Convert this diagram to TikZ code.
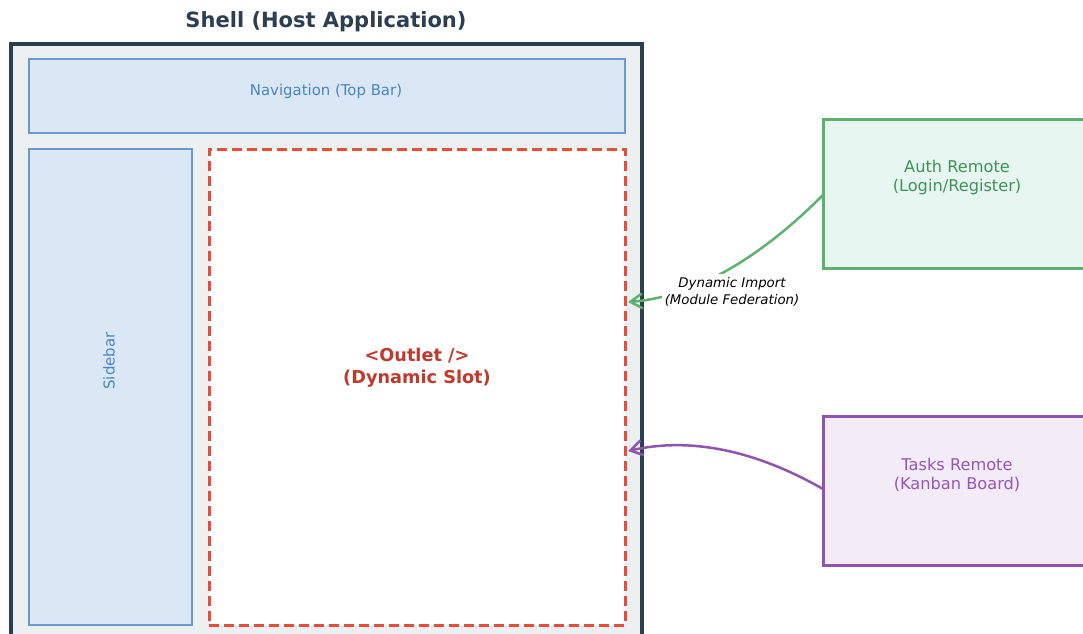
\documentclass[tikz,border=0pt]{standalone}
\usepackage{fontspec}
\setmainfont{DejaVu Sans}
\usetikzlibrary{arrows.meta,calc}
\definecolor{shellline}{HTML}{2C3E50}
\definecolor{shellfill}{HTML}{ECF0F1}
\definecolor{navfill}{HTML}{DAE8F5}
\definecolor{navline}{HTML}{6A9ACB}
\definecolor{navtext}{HTML}{4A86BB}
\definecolor{outletline}{HTML}{E74C3C}
\definecolor{outlettext}{HTML}{C0392B}
\definecolor{authfill}{HTML}{E8F6F1}
\definecolor{authline}{HTML}{5DB26E}
\definecolor{authtext}{HTML}{3F9356}
\definecolor{tasksfill}{HTML}{F3ECF6}
\definecolor{tasksline}{HTML}{8E55B0}
\definecolor{taskstext}{HTML}{9457B5}
\begin{document}
\begin{tikzpicture}[x=1pt,y=-1pt,
  box/.style={draw, rectangle, anchor=north west, inner sep=0pt, outer sep=0pt},
  bluebox/.style={box, fill=navfill, draw=navline, line width=1.3pt},
  remotebox/.style={box, line width=3pt},
  lbl/.style={inner sep=0pt, align=center},
  conn/.style={line width=2.5pt, -{Straight Barb[length=12pt,width=15pt,line width=2.5pt]}}
]
\clip (0,0) rectangle (1083,633);
\fill[white] (0,0) rectangle (1083,633);

% title
\node[lbl, font=\fontsize{21}{25}\selectfont\bfseries, text=shellline] (title) at (326,22) {Shell (Host Application)};

% shell
\node[box, fill=shellfill, draw=shellline, line width=4pt, minimum width=631pt, minimum height=620pt] (shell) at (11,44) {};

% navigation
\node[bluebox, minimum width=596pt, minimum height=74pt] (nav) at (29,59) {};
\node[lbl, font=\fontsize{14.9}{18}\selectfont, text=navtext] (navtxt) at (326,91) {Navigation (Top Bar)};

% sidebar
\node[bluebox, minimum width=163pt, minimum height=476pt] (side) at (29,149) {};
\node[lbl, rotate=90, font=\fontsize{15}{18}\selectfont, text=navtext] (sidetxt) at (109,361) {Sidebar};

% outlet
\node[box, fill=white, draw=outletline, line width=3pt, dash pattern=on 10pt off 5pt, minimum width=416pt, minimum height=476pt] (outlet) at (209,149) {};
\node[lbl, font=\fontsize{17.7}{22}\selectfont\bfseries, text=outlettext] (outlettxt) at (417,368) {<Outlet />\\(Dynamic Slot)};

% remotes
\node[remotebox, fill=authfill, draw=authline, minimum width=270pt, minimum height=149pt] (auth) at (823,119) {};
\node[lbl, font=\fontsize{16.2}{19}\selectfont, text=authtext] (authtxt) at (957,178) {Auth Remote\\(Login/Register)};

\node[remotebox, fill=tasksfill, draw=tasksline, minimum width=270pt, minimum height=149pt] (tasks) at (823,416) {};
\node[lbl, font=\fontsize{16.2}{19}\selectfont, text=taskstext] (taskstxt) at (957,475) {Tasks Remote\\(Kanban Board)};

% connectors
\coordinate (authin) at ($(outlet.north east)+(3,153)$);
\coordinate (tasksin) at ($(outlet.north east)+(3,302)$);
\draw[conn, draw=authline] ($(auth.north west)+(0,76)$) .. controls (756.3,261.7) and (691.3,297.3) .. (authin);
\draw[conn, draw=tasksline] ($(tasks.north west)+(0,73)$) .. controls (754.3,449.7) and (689.3,437) .. (tasksin);

\node[fill=white, inner sep=3pt, align=center, font=\fontsize{13.3}{17.5}\selectfont\itshape] (dynlbl) at (732,292) {Dynamic Import\\(Module Federation)};
\end{tikzpicture}
\end{document}
